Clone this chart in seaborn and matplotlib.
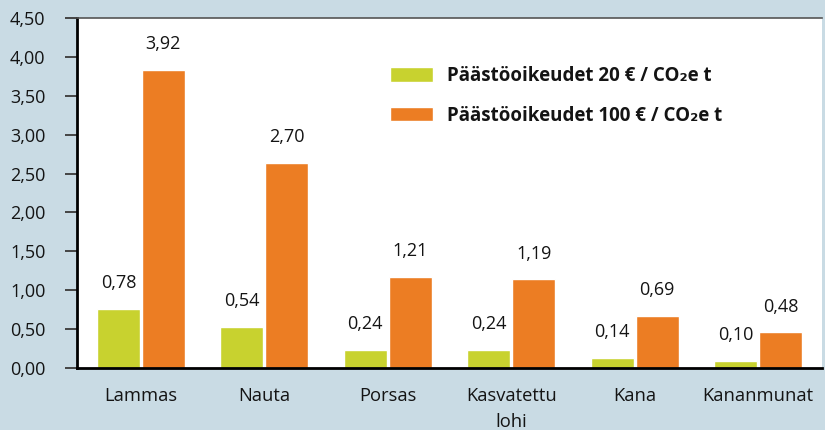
import matplotlib
matplotlib.use("Agg")
import matplotlib.pyplot as plt
import seaborn as sns
import pandas as pd

categories = ["Lammas", "Nauta", "Porsas", "Kasvatettu\nlohi", "Kana", "Kananmunat"]
series_names = ["Päästöoikeudet 20 € / CO₂e t", "Päästöoikeudet 100 € / CO₂e t"]
values_20 = [0.76, 0.53, 0.23, 0.23, 0.13, 0.09]
values_100 = [3.83, 2.64, 1.17, 1.14, 0.67, 0.46]
labels_20 = ["0,78", "0,54", "0,24", "0,24", "0,14", "0,10"]
labels_100 = ["3,92", "2,70", "1,21", "1,19", "0,69", "0,48"]
y_ticks = [0.0, 0.5, 1.0, 1.5, 2.0, 2.5, 3.0, 3.5, 4.0, 4.5]
y_tick_labels = ["0,00", "0,50", "1,00", "1,50", "2,00", "2,50", "3,00", "3,50", "4,00", "4,50"]

GREEN = "#c8d22f"
ORANGE = "#ec7d23"
BG = "#c9dbe4"
TXT = "#141414"

sns.set_theme(style="white")
plt.rcParams["font.family"] = ["Open Sans", "DejaVu Sans"]

df = pd.DataFrame({
    "kategoria": categories * 2,
    "sarja": [series_names[0]] * len(categories) + [series_names[1]] * len(categories),
    "arvo": values_20 + values_100,
})

fig = plt.figure(figsize=(8.25, 4.3), dpi=100, facecolor=BG)
ax = fig.add_axes([77 / 825, 1 - 368 / 430, (822 - 77) / 825, (368 - 18) / 430])
ax.set_facecolor("white")

sns.barplot(data=df, x="kategoria", y="arvo", hue="sarja", order=categories,
            hue_order=series_names, palette={series_names[0]: GREEN, series_names[1]: ORANGE},
            width=0.726, gap=0.045, saturation=1, ax=ax, legend=True, errorbar=None)

for cont, labs in zip(ax.containers, [labels_20, labels_100]):
    ax.bar_label(cont, labels=labs, padding=12, fontsize=13, color=TXT)

ax.set_xlim(-0.516, 5.516)
ax.set_ylim(0, 4.5)
ax.set_yticks(y_ticks)
ax.set_yticklabels(y_tick_labels)
ax.set_xlabel("")
ax.set_ylabel("")

ax.tick_params(axis="y", which="major", length=8.6, width=1.4, color="#444444",
               pad=14, labelsize=13, labelcolor=TXT, left=True, direction="out")
ax.tick_params(axis="x", length=0, pad=14, labelsize=13.2, labelcolor=TXT)
for lab in ax.get_xticklabels():
    lab.set_linespacing(1.55)

for side in ["left", "bottom"]:
    ax.spines[side].set_color("black")
    ax.spines[side].set_linewidth(2)
ax.spines["top"].set_color("#555555")
ax.spines["top"].set_linewidth(1.2)
ax.spines["right"].set_visible(False)

handles, labels = ax.get_legend_handles_labels()
ax.legend(handles, labels, loc="upper left", bbox_to_anchor=(390 / 825, 1 - 66 / 430),
          bbox_transform=fig.transFigure, frameon=False, borderpad=0, borderaxespad=0,
          handlelength=2.3, handleheight=0.8, handletextpad=0.75, labelspacing=1.05,
          prop={"weight": "bold", "size": 13.5}, labelcolor=TXT)

fig.savefig("out.png", dpi=100, facecolor=BG)
